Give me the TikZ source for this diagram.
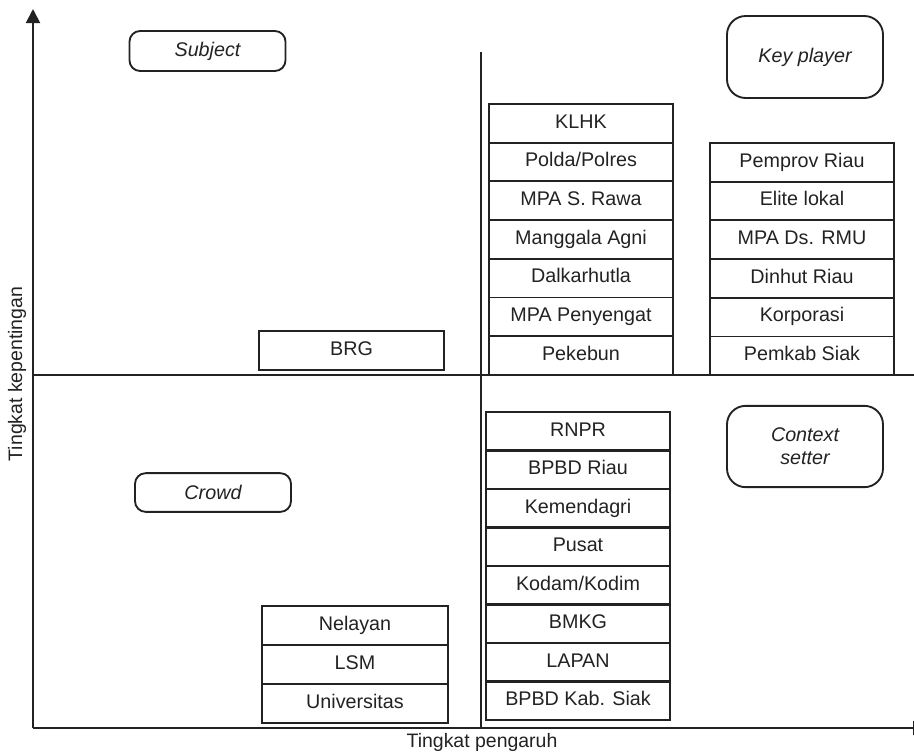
\documentclass[tikz,border=0pt]{standalone}
\usepackage{fontspec}
\setmainfont{Liberation Sans}
\usetikzlibrary{positioning, arrows.meta}
\definecolor{Ink}{HTML}{222222}
\tikzset{
    cell/.style={rectangle, draw=Ink, line width=1.4pt, text=Ink, minimum width=138pt, minimum height=29pt, inner sep=0pt, outer sep=0pt, text height=0.72em, text depth=0pt, font=\fontsize{14.8}{17}\selectfont},
    quadrant/.style={rectangle, rounded corners=8pt, draw=Ink, line width=1.4pt, text=Ink, minimum width=117pt, inner sep=0pt, align=center, font=\fontsize{14.8}{17.5}\selectfont\itshape},
    axis/.style={line width=1.4pt, draw=Ink, -{Triangle[width=10.5pt,length=10.5pt]}},
    axislabel/.style={text=Ink, font=\fontsize{14.6}{17}\selectfont},
}
\begin{document}
\begin{tikzpicture}[x=0.75pt, y=-0.75pt]
    \useasboundingbox (0,0) rectangle (914,751);

    \coordinate (O) at (33,728);
    \coordinate (Ytop) at (33,9);
    \coordinate (Xend) at (927,728);

    % Sumbu
    \draw[axis] (O) -- (Ytop);
    \draw[axis] (O) -- (Xend);
    \draw[line width=1.4pt, Ink] (33,375) -- (914,375);
    \draw[line width=1.4pt, Ink] (481,52) -- (481,728);

    \node[axislabel] (xlabel) at (482,742) {Tingkat pengaruh};
    \node[axislabel, rotate=90] (ylabel) at (17,374) {Tingkat kepentingan};

    % Label kuadran
    \node[quadrant, minimum height=30pt] (subject) at (207.5,51) {Subject};
    \node[quadrant, minimum height=61.5pt, rounded corners=14pt] (keyplayer) at (805,57) {Key player};
    \node[quadrant, minimum height=29pt] (crowd) at (213,492.5) {Crowd};
    \node[quadrant, minimum height=61pt, rounded corners=14pt] (context) at (805,446.5) {Context\\setter};

    % Kuadran kiri atas
    \node[cell, minimum width=139pt] (brg) at (351.5,350.5) {BRG};

    % Kuadran kanan atas
    \foreach \lbl [count=\i] in {KLHK, Polda/Polres, MPA S. Rawa, Manggala Agni, Dalkarhutla, MPA Penyengat, Pekebun}
        \node[cell] (ka\i) at (581,{104+19.35+(\i-1)*38.7}) {\lbl};
    \foreach \lbl [count=\i] in {Pemprov Riau, Elite lokal, MPA Ds. RMU, Dinhut Riau, Korporasi, Pemkab Siak}
        \node[cell] (kp\i) at (802,{143+19.35+(\i-1)*38.7}) {\lbl};

    % Kuadran kanan bawah
    \foreach \lbl [count=\i] in {RNPR, BPBD Riau, Kemendagri, Pusat, Kodam/Kodim, BMKG, LAPAN, BPBD Kab. Siak}
        \node[cell] (kb\i) at (578,{412+19.25+(\i-1)*38.5}) {\lbl};

    % Kuadran kiri bawah
    \foreach \lbl [count=\i] in {Nelayan, LSM, Universitas}
        \node[cell, minimum width=139.5pt] (kc\i) at (355,{606+19.5+(\i-1)*39}) {\lbl};
\end{tikzpicture}
\end{document}
